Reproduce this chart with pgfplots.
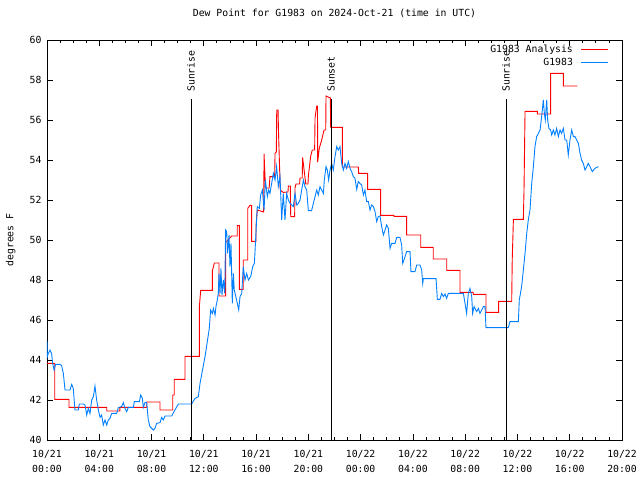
\documentclass[border=0pt]{standalone}
\usepackage{pgfplots}
\pgfplotsset{compat=1.18}
\usepackage{fontspec}
\setmainfont{DejaVu Sans Mono}
\definecolor{anared}{RGB}{255,0,0}
\definecolor{obsblue}{RGB}{0,128,255}
\begin{document}
\fontsize{9.8bp}{12bp}\selectfont
\begin{tikzpicture}
\useasboundingbox (0,0) rectangle (640bp,480bp);
\begin{axis}[
  at={(47bp,40bp)}, anchor=south west,
  width=575bp, height=400bp, scale only axis,
  xmin=0, xmax=44, ymin=40, ymax=60,
  xtick={0,4,...,44},
  xticklabels={{10/21\\00:00},{10/21\\04:00},{10/21\\08:00},{10/21\\12:00},{10/21\\16:00},{10/21\\20:00},{10/22\\00:00},{10/22\\04:00},{10/22\\08:00},{10/22\\12:00},{10/22\\16:00},{10/22\\20:00}},
  minor x tick num=3,
  ytick={40,42,...,60},
  tick align=inside,
  major tick length=6bp, minor tick length=3bp,
  axis line style={line width=0.8bp},
  every tick/.style={line width=0.8bp, black},
  xticklabel style={align=center, font=\fontsize{9.8bp}{15bp}\selectfont, yshift=-7bp},
  yticklabel style={font=\fontsize{9.8bp}{12bp}\selectfont, xshift=-2bp},
  /pgf/number format/assume math mode=true,
  title={Dew Point for G1983 on 2024-Oct-21 (time in UTC)},
  title style={at={(axis description cs:0.5,1)}, anchor=base, yshift=17.4bp, inner sep=0pt},
  ylabel={degrees F},
  ylabel style={at={(axis description cs:-0.063,0.5)}, anchor=center},
  legend cell align=right,
  legend plot pos=right,
  legend image code/.code={\draw[#1] (0bp,0bp) -- (27.3bp,0bp);},
  legend style={at={(axis description cs:0.9774,0.993)}, anchor=north east,
    draw=none, fill=none, inner sep=0pt, column sep=6.2bp, row sep=0pt,
    nodes={inner sep=1.5bp, text height=8bp, text depth=2bp},
    font=\fontsize{9.8bp}{12bp}\selectfont},
]
\addplot[anared, line width=0.9bp] coordinates {
(0,43.83) (0.59,43.83) (0.59,42.03) (1.68,42.03) (1.68,41.63) (4.57,41.63) (4.57,41.45) (5.58,41.45) (5.58,41.63) (7.63,41.63) (7.63,41.9) (8.65,41.9) (8.65,41.5) (9.62,41.5) (9.62,42.25) (9.74,42.25) (9.74,43.03) (10.56,43.03) (10.56,44.18) (11.66,44.18) (11.66,46.67) (11.76,47.48) (12.65,47.48) (12.65,48.45) (12.81,48.85) (13.16,48.85) (13.16,47.2) (13.67,47.2) (13.67,49.88) (14.13,50.2) (14.56,50.2) (14.56,50.72) (14.72,50.72) (14.72,47.53) (15.02,47.53) (15.02,49.0) (15.36,49.0) (15.36,51.58) (15.53,51.73) (15.66,51.73) (15.66,49.93) (15.99,49.93) (15.99,50.67) (16.09,51.5) (16.58,51.4) (16.61,54.3) (16.72,52.6) (17.0,52.6) (17.06,53.17) (17.42,53.17) (17.45,54.33) (17.55,54.4) (17.58,56.5) (17.68,56.5) (17.72,55.3) (17.85,52.5) (18.08,52.38) (18.44,52.4) (18.47,52.7) (18.62,52.7) (18.65,51.17) (18.95,51.17) (18.98,52.6) (19.05,52.8) (19.33,52.8) (19.36,53.1) (19.53,53.1) (19.56,54.13) (19.67,53.53) (19.8,52.8) (19.97,52.8) (20.0,53.2) (20.18,54.2) (20.3,54.5) (20.48,54.5) (20.51,56.1) (20.64,56.7) (20.7,56.7) (20.71,53.9) (20.84,54.6) (21.02,55.0) (21.2,55.5) (21.33,55.5) (21.35,57.2) (21.68,57.1) (21.71,55.63) (22.6,55.63) (22.6,53.65) (23.82,53.65) (23.85,53.33) (24.54,53.33) (24.54,52.53) (25.53,52.53) (25.53,51.23) (26.55,51.23) (26.55,51.18) (27.52,51.18) (27.52,50.25) (28.6,50.25) (28.6,49.63) (29.56,49.63) (29.56,49.05) (30.59,49.05) (30.59,48.48) (31.6,48.48) (31.6,47.38) (32.62,47.38) (32.62,47.28) (33.59,47.28) (33.59,46.38) (34.56,46.38) (34.56,46.93) (35.56,46.93) (35.6,49.0) (35.69,51.03) (36.45,51.03) (36.5,52.4) (36.58,56.43) (37.52,56.43) (37.52,56.3) (38.54,56.3) (38.54,58.33) (39.51,58.33) (39.51,57.7) (40.58,57.7)
};
\addlegendentry{G1983 Analysis}
\addplot[obsblue, line width=0.9bp] coordinates {
(0.0,44.95) (0.03,44.17) (0.10,44.33) (0.23,44.5) (0.36,44.3) (0.43,43.83) (0.54,43.5) (0.66,43.78) (0.99,43.78) (1.12,43.72) (1.25,43.33) (1.38,42.5) (1.76,42.5) (1.89,42.78) (2.01,42.58) (2.14,41.5) (2.40,41.5) (2.47,41.8) (2.78,41.8) (2.91,41.75) (3.04,41.25) (3.16,41.58) (3.29,41.33) (3.42,42.0) (3.55,42.17) (3.67,42.7) (3.80,42.0) (3.93,41.5) (4.06,41.13) (4.18,41.25) (4.31,40.75) (4.44,41.0) (4.57,40.75) (4.69,41.0) (4.82,41.08) (4.95,41.33) (5.33,41.33) (5.46,41.62) (5.71,41.67) (5.84,41.87) (5.97,41.58) (6.10,41.42) (6.22,41.63) (6.61,41.63) (6.68,41.92) (7.07,41.92) (7.17,42.25) (7.30,42.08) (7.37,41.63) (7.50,41.88) (7.63,41.87) (7.75,41.0) (7.88,40.67) (8.14,40.5) (8.26,40.58) (8.39,40.83) (8.65,40.87) (8.77,41.13) (8.90,41.0) (9.03,41.2) (9.54,41.2) (9.79,41.5) (10.05,41.8) (11.07,41.8) (11.33,42.08) (11.58,42.17) (11.71,42.83) (12.1,44.2) (12.42,45.58) (12.52,46.5) (12.65,46.33) (12.73,46.58) (12.86,46.25) (12.93,46.67) (13.03,47.0) (13.11,47.33) (13.16,48.33) (13.24,47.33) (13.31,48.58) (13.39,47.25) (13.49,48.0) (13.60,47.33) (13.67,50.5) (13.75,50.42) (13.82,49.33) (13.93,50.25) (14.0,48.67) (14.08,49.83) (14.18,46.83) (14.26,48.33) (14.33,47.5) (14.51,47.0) (14.67,46.5) (14.77,47.17) (14.90,47.33) (15.02,48.67) (15.15,48.0) (15.28,48.33) (15.41,48.0) (15.59,48.17) (15.74,48.67) (15.87,48.83) (15.99,50.33) (16.09,51.67) (16.25,51.58) (16.35,52.25) (16.48,52.5) (16.61,51.5) (16.71,53.0) (16.86,52.17) (16.96,52.5) (17.06,52.33) (17.19,52.83) (17.32,53.33) (17.45,53.0) (17.57,53.67) (17.70,52.67) (17.83,53.17) (17.96,51.0) (18.08,52.33) (18.21,51.0) (18.34,52.33) (18.47,52.0) (18.60,51.83) (18.72,51.75) (18.85,51.67) (18.98,52.33) (19.11,51.75) (19.23,51.83) (19.36,52.0) (19.49,52.5) (19.62,53.0) (19.74,52.67) (19.87,52.5) (20.0,51.47) (20.25,51.47) (20.38,51.83) (20.51,52.17) (20.64,52.5) (20.76,52.25) (20.89,52.67) (21.02,52.5) (21.15,52.33) (21.22,53.0) (21.35,53.67) (21.45,53.5) (21.55,53.0) (21.66,53.5) (21.78,53.83) (21.91,53.5) (22.04,54.17) (22.17,54.67) (22.29,54.5) (22.42,54.67) (22.55,53.83) (22.68,53.5) (22.80,53.83) (22.93,53.58) (23.06,53.92) (23.19,53.58) (23.31,53.42) (23.44,53.17) (23.57,53.08) (23.70,52.53) (23.82,52.92) (23.95,52.83) (24.08,52.75) (24.21,52.25) (24.33,52.5) (24.46,51.92) (24.59,51.92) (24.72,51.5) (24.84,51.75) (24.97,51.67) (25.10,51.42) (25.23,50.92) (25.35,51.17) (25.48,51.2) (25.61,50.67) (25.74,50.25) (25.87,50.5) (25.99,50.75) (26.12,50.58) (26.25,49.58) (26.37,49.83) (26.63,49.83) (26.76,50.13) (27.01,50.13) (27.14,49.75) (27.22,48.83) (27.40,49.17) (27.52,49.42) (27.78,49.42) (27.85,48.42) (28.16,48.42) (28.29,48.75) (28.54,48.75) (28.67,48.5) (28.75,47.83) (28.80,48.07) (29.77,48.07) (29.87,47.03) (30.07,47.03) (30.20,47.33) (30.33,47.17) (30.46,47.3) (30.58,47.08) (30.71,47.33) (31.86,47.33) (31.99,46.83) (32.11,46.33) (32.24,47.33) (32.37,47.58) (32.50,47.17) (32.57,46.33) (32.68,46.67) (32.88,46.42) (33.01,46.58) (33.13,46.33) (33.39,46.67) (33.52,46.67) (33.59,45.62) (35.30,45.62) (35.43,45.92) (36.07,45.92) (36.14,47.0) (36.32,47.67) (36.40,48.17) (36.58,49.33) (36.71,50.33) (36.83,51.0) (36.96,51.5) (37.09,52.83) (37.22,53.67) (37.34,54.67) (37.47,55.17) (37.60,55.33) (37.73,55.5) (37.85,56.17) (37.98,57.0) (38.06,56.33) (38.13,56.0) (38.24,57.0) (38.31,56.0) (38.41,55.58) (38.54,55.5) (38.62,55.25) (38.75,55.5) (38.87,55.25) (39.0,55.58) (39.13,55.17) (39.26,55.5) (39.38,55.33) (39.51,55.58) (39.64,55.0) (39.77,55.0) (39.89,54.25) (40.02,55.0) (40.15,55.5) (40.28,55.17) (40.40,55.17) (40.53,55.0) (40.66,54.83) (40.79,54.33) (40.91,54.0) (41.04,53.83) (41.17,53.5) (41.30,53.67) (41.42,53.83) (41.55,53.67) (41.73,53.42) (41.93,53.58) (42.19,53.67)
};
\addlegendentry{G1983}
\addplot[black, line width=0.9bp, forget plot] coordinates {(11.02,40) (11.02,57.05)};
\addplot[black, line width=0.9bp, forget plot] coordinates {(21.73,40) (21.73,57.05)};
\addplot[black, line width=0.9bp, forget plot] coordinates {(35.12,40) (35.12,57.05)};
\node[rotate=90, anchor=west, inner sep=0pt] at (axis cs:11.02,57.4) {Sunrise};
\node[rotate=90, anchor=west, inner sep=0pt] at (axis cs:21.73,57.4) {Sunset};
\node[rotate=90, anchor=west, inner sep=0pt] at (axis cs:35.12,57.4) {Sunrise};
\end{axis}
\end{tikzpicture}
\end{document}
